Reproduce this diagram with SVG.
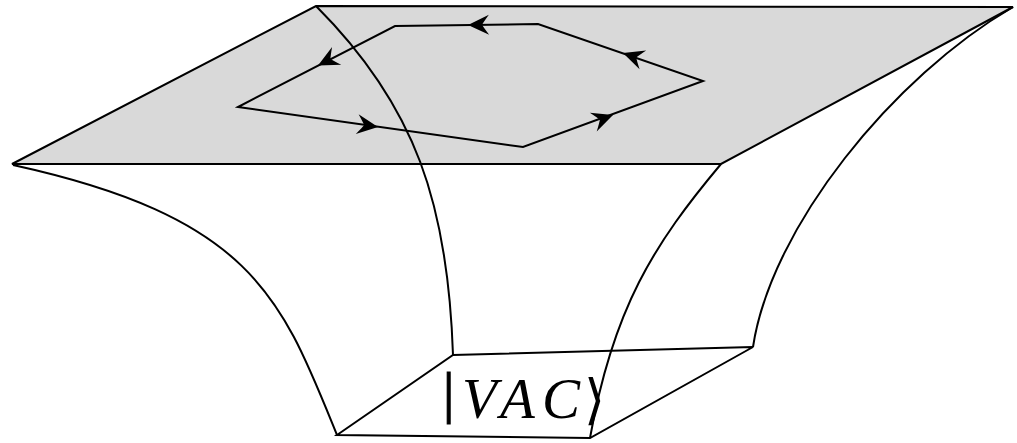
<svg xmlns="http://www.w3.org/2000/svg" xmlns:xlink="http://www.w3.org/1999/xlink" width="1017" height="443" viewBox="0 0 1017 443">
<style>
.ln{fill:none;stroke:#000;stroke-width:2;stroke-linejoin:miter}
.plane{fill:#d9d9d9;stroke:#000;stroke-width:2;stroke-linejoin:miter}
.lbl{font-family:"Liberation Serif","DejaVu Serif",serif;font-size:57px;fill:#000}
.it{font-style:italic}
.bar{stroke:#000;stroke-width:1.2}
</style>
<defs>
<path id="ah" d="M0,0 L-21,-10 Q-15,-2 -14,0 Q-15,2 -21,10 Z" fill="#000"/>
</defs>
<rect width="1017" height="443" fill="#fff"/>
<g id="plane">
<polygon class="plane" points="12,164 316,6 1013,7 721,164"/>
</g>
<g id="tube">
<path class="ln" d="M13,165 C255,218 282,300 337,435"/>
<path class="ln" d="M316,6 C416,106 448,205 453,355"/>
<path class="ln" d="M721,164 C654,244 613,308 590,438"/>
<path class="ln" d="M1013,7 C893,77 771,227 753,347"/>
</g>
<g id="vacuum">
<polygon class="ln" points="337,435 453,355 753,347 590,438"/>
</g>
<g id="connectors">
<polygon class="ln" points="238,107 523,147 703,81 538,24 395,26"/>
<use xlink:href="#ah" transform="translate(378,127) rotate(8)"/>
<use xlink:href="#ah" transform="translate(613,115) rotate(-20.1)"/>
<use xlink:href="#ah" transform="translate(623,53) rotate(199.1)"/>
<use xlink:href="#ah" transform="translate(468,25) rotate(179.2)"/>
<use xlink:href="#ah" transform="translate(318,65.5) rotate(152.7)"/>
</g>
<g id="label">
<text class="lbl" y="418"><tspan class="bar" x="443" y="412">|</tspan><tspan class="it" x="462" y="418">V</tspan><tspan class="it" x="500">A</tspan><tspan class="it" x="542">C</tspan><tspan x="584" font-size="54">⟩</tspan></text>
</g>
</svg>
